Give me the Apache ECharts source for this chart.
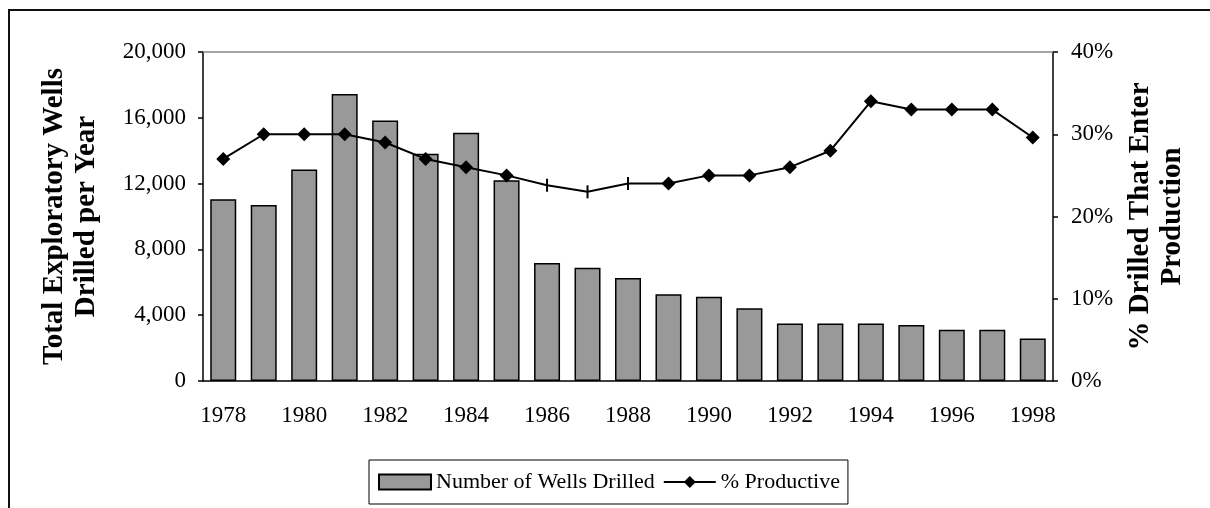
<!DOCTYPE html>
<html>
<head>
<meta charset="utf-8">
<script src="https://cdn.jsdelivr.net/npm/echarts@6/dist/echarts.min.js"></script>
<style>
  html, body { margin: 0; padding: 0; background: #fff; }
  #chart-container { width: 1210px; height: 508px; }
</style>
</head>
<body>
<div id="chart-container"></div>
<script>
const years = ['1978', '1979', '1980', '1981', '1982', '1983', '1984', '1985', '1986', '1987',
  '1988', '1989', '1990', '1991', '1992', '1993', '1994', '1995', '1996', '1997', '1998'];
const wellsDrilled = [11050, 10700, 12850, 17450, 15830, 13820, 15090, 12200, 7170, 6890,
  6260, 5270, 5120, 4420, 3500, 3500, 3500, 3400, 3120, 3120, 2590];
const pctProductive = [27, 30, 30, 30, 29, 27, 26, 25, 23.8, 23,
  24, 24, 25, 25, 26, 28, 34, 33, 33, 33, 29.6];
// years where the marker shows as a small vertical dash instead of a diamond
const dashYears = ['1986', '1987', '1988'];

const serif = 'Liberation Serif';

let dom = document.getElementById('chart-container');
let myChart = echarts.init(dom, null, { renderer: 'canvas' });

function withCommas(v) {
  return String(v).replace(/\B(?=(\d{3})+(?!\d))/g, ',');
}

const lineData = pctProductive.map(function (v, i) {
  if (dashYears.indexOf(years[i]) >= 0) {
    return { value: v, symbol: 'rect', symbolSize: [2, 13] };
  }
  return v;
});

const tickLabel = { fontFamily: serif, fontSize: 23, color: '#000' };
const axisName = { fontFamily: serif, fontSize: 29, fontWeight: 'bold', color: '#000', lineHeight: 32 };

let option = {
  animation: false,
  backgroundColor: '#fff',
  graphic: [
    {
      type: 'rect',
      shape: { x: 9, y: 10, width: 1300, height: 600 },
      style: { fill: 'none', stroke: '#111', lineWidth: 2 },
      silent: true,
      z: -1
    }
  ],
  grid: { left: 203, right: 157, top: 52, bottom: 127 },
  legend: {
    left: 369,
    top: 460,
    padding: [11, 8, 11, 9],
    borderColor: '#000',
    borderWidth: 1,
    itemWidth: 52,
    itemHeight: 15,
    itemGap: 8,
    textStyle: { fontFamily: serif, fontSize: 22, color: '#000' },
    data: [
      { name: 'Number of Wells Drilled', icon: 'rect' },
      { name: '% Productive' }
    ]
  },
  xAxis: [
    {
      type: 'category',
      data: years,
      axisLine: { lineStyle: { color: '#000', width: 1.5 } },
      axisTick: { interval: 0, length: 5, lineStyle: { color: '#000', width: 1.5 } },
      axisLabel: Object.assign({ interval: 1, margin: 23 }, tickLabel)
    },
    {
      type: 'category',
      data: years,
      position: 'bottom',
      axisLine: { show: false },
      axisTick: { interval: 0, inside: true, length: 4, lineStyle: { color: '#000', width: 1.5 } },
      axisLabel: { show: false }
    },
    {
      type: 'category',
      data: years,
      position: 'top',
      axisLine: { lineStyle: { color: '#888', width: 1.5 } },
      axisTick: { show: false },
      axisLabel: { show: false }
    }
  ],
  yAxis: [
    {
      type: 'value',
      min: 0,
      max: 20000,
      interval: 4000,
      position: 'left',
      name: 'Total Exploratory Wells\nDrilled per Year',
      nameLocation: 'middle',
      nameRotate: 90,
      nameGap: 100,
      nameTextStyle: axisName,
      axisLine: { show: true, lineStyle: { color: '#000', width: 1.5 } },
      axisTick: { show: true, length: 5, lineStyle: { color: '#000', width: 1.5 } },
      splitLine: { show: false },
      axisLabel: Object.assign({ margin: 17, formatter: withCommas }, tickLabel)
    },
    {
      type: 'value',
      min: 0,
      max: 40,
      interval: 10,
      position: 'right',
      name: '% Drilled That Enter\nProduction',
      nameLocation: 'middle',
      nameRotate: 90,
      nameGap: 69,
      nameTextStyle: axisName,
      axisLine: { show: true, lineStyle: { color: '#000', width: 1.5 } },
      axisTick: { show: true, length: 5, lineStyle: { color: '#000', width: 1.5 } },
      splitLine: { show: false },
      axisLabel: Object.assign({ margin: 18, formatter: '{value}%' }, tickLabel)
    }
  ],
  series: [
    {
      name: 'Number of Wells Drilled',
      type: 'bar',
      data: wellsDrilled,
      barWidth: 26,
      itemStyle: { color: '#999999', borderColor: '#000', borderWidth: 1.5 }
    },
    {
      name: '% Productive',
      type: 'line',
      yAxisIndex: 1,
      data: lineData,
      symbol: 'diamond',
      symbolSize: 14,
      lineStyle: { color: '#000', width: 2 },
      itemStyle: { color: '#000' }
    }
  ]
};

myChart.setOption(option);
window.addEventListener('resize', myChart.resize);
</script>
</body>
</html>
